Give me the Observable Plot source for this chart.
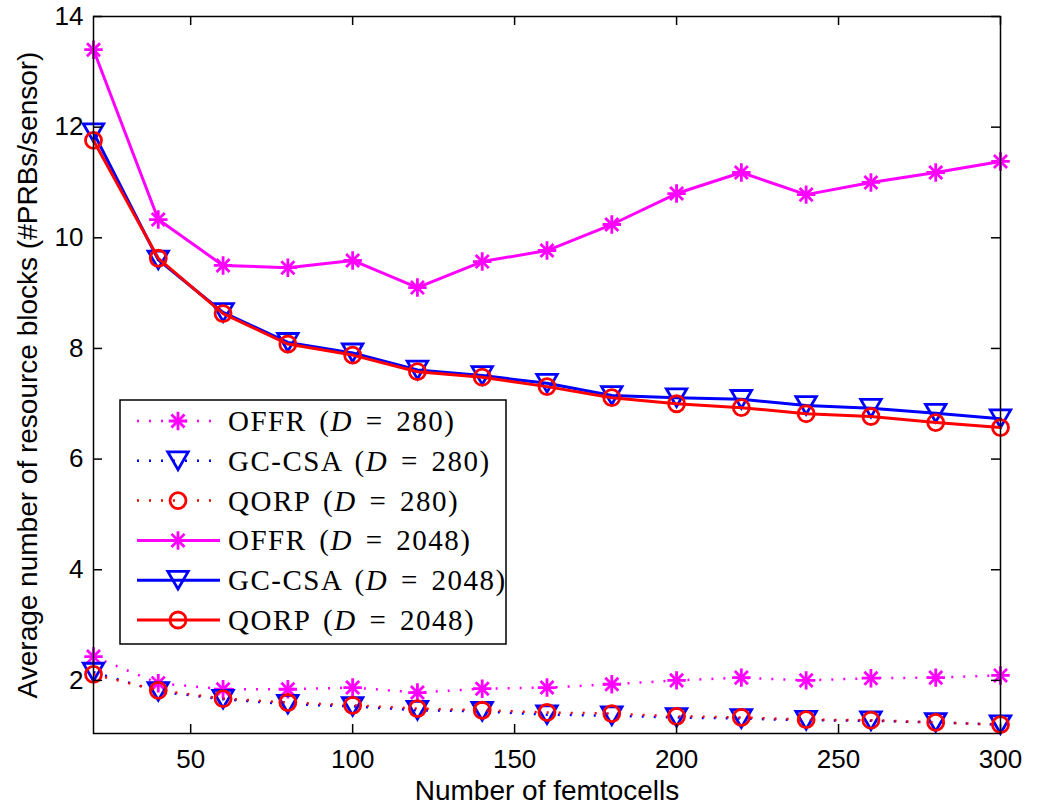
<!DOCTYPE html>
<html><head><meta charset="utf-8">
<script src="https://cdn.jsdelivr.net/npm/d3@7"></script>
<script src="https://cdn.jsdelivr.net/npm/@observablehq/plot@0.6"></script>
<style>body{margin:0;background:#fff;} #chart{position:relative;width:1042px;height:805px;}</style>
</head><body><div id="chart"></div>
<script>
// ---- data ----
const femtocells = [20,40,60,80,100,120,140,160,180,200,220,240,260,280,300];
const offr280   = [2.43,1.95,1.84,1.84,1.87,1.78,1.85,1.87,1.93,2.00,2.05,2.00,2.04,2.05,2.09];
const gccsa280  = [2.15,1.80,1.66,1.57,1.53,1.46,1.44,1.38,1.36,1.33,1.31,1.28,1.27,1.24,1.20];
const qorp280   = [2.11,1.82,1.67,1.60,1.55,1.49,1.46,1.42,1.40,1.35,1.33,1.29,1.28,1.24,1.20];
const offr2048  = [13.40,10.33,9.50,9.46,9.59,9.10,9.57,9.77,10.24,10.80,11.18,10.78,11.00,11.18,11.38];
const gccsa2048 = [11.90,9.60,8.65,8.11,7.92,7.61,7.51,7.37,7.15,7.11,7.08,6.97,6.92,6.83,6.73];
const qorp2048  = [11.76,9.63,8.63,8.08,7.88,7.58,7.48,7.31,7.11,7.00,6.93,6.82,6.77,6.66,6.57];
const seriesNames = ["OFFR","GC-CSA","QORP","OFFR","GC-CSA","QORP"];
const seriesD = ["280","280","280","2048","2048","2048"];
const xTicks = [50,100,150,200,250,300];
const yTicks = [2,4,6,8,10,12,14];
const xLabel = "Number of femtocells";
const yLabel = "Average number of resource blocks (#PRBs/sensor)";

// ---- styles ----
const allValues = [offr280,gccsa280,qorp280,offr2048,gccsa2048,qorp2048];
const styles = [
  {color:"#ff00ff", dash:"2,10", marker:"star"},
  {color:"#0000ff", dash:"2,10", marker:"tri"},
  {color:"#ff0000", dash:"2,10", marker:"circle"},
  {color:"#ff00ff", dash:null, marker:"star"},
  {color:"#0000ff", dash:null, marker:"tri"},
  {color:"#ff0000", dash:null, marker:"circle"}
];
const downTriangle = {draw(ctx, size){
  const y = Math.sqrt(size/(Math.sqrt(3)*3)), s3 = Math.sqrt(3);
  ctx.moveTo(0, 1.5*y); ctx.lineTo(-s3*y, -1.5*y); ctx.lineTo(s3*y, -1.5*y); ctx.closePath();
}};

const W = 1042, H = 805, mL = 93, mR = 42, mT = 16, mB = 72;
const fw = W - mL - mR, fh = H - mT - mB;

function markerMarks(data, st, lw) {
  if (st.marker === "star") return [
    Plot.dot(data, {x:"x", y:"y", symbol:"plus", r:6, stroke:st.color, fill:"none", strokeWidth:lw}),
    Plot.dot(data, {x:"x", y:"y", symbol:"times", r:6, stroke:st.color, fill:"none", strokeWidth:lw})
  ];
  if (st.marker === "tri") return [
    Plot.dot(data, {x:"x", y:"y", symbol:downTriangle, r:7.6, stroke:st.color, fill:"none", strokeWidth:lw})
  ];
  return [Plot.dot(data, {x:"x", y:"y", r:8, stroke:st.color, fill:"none", strokeWidth:lw})];
}

const marks = [];
allValues.forEach((vals, i) => {
  const data = femtocells.map((x, j) => ({x, y: vals[j]}));
  const st = styles[i];
  marks.push(Plot.line(data, {x:"x", y:"y", stroke:st.color, strokeWidth: st.dash ? 2.5 : 3,
    strokeDasharray: st.dash || undefined, strokeLinecap: st.dash ? "butt" : "round"}));
  marks.push(...markerMarks(data, st, 2.8));
});

const chart = Plot.plot({
  width: W, height: H,
  marginLeft: mL, marginRight: mR, marginTop: mT, marginBottom: mB,
  style: {fontFamily: "'Liberation Sans', Arial, sans-serif", fontSize: "26px", background: "#fff", color: "#000"},
  x: {domain: [20, 300]},
  y: {domain: [1.04, 14]},
  marks: [
    ...marks,
    Plot.frame({stroke: "black", strokeWidth: 1.5}),
    Plot.tickX(xTicks, {x: d => d, stroke: "black", strokeWidth: 1.5, insetTop: fh - 9}),
    Plot.tickX(xTicks, {x: d => d, stroke: "black", strokeWidth: 1.5, insetBottom: fh - 9}),
    Plot.tickY(yTicks, {y: d => d, stroke: "black", strokeWidth: 1.5, insetRight: fw - 9}),
    Plot.tickY(yTicks, {y: d => d, stroke: "black", strokeWidth: 1.5, insetLeft: fw - 9}),
    Plot.axisX({ticks: xTicks, tickSize: 0, tickPadding: 16, label: null, fontSize: 26}),
    Plot.axisY({ticks: yTicks, tickSize: 0, tickPadding: 10, label: null, fontSize: 26})
  ]
});
document.getElementById("chart").appendChild(chart);

// ---- axis titles & legend ----
const svg = d3.select(chart);
svg.append("text").attr("x", 547).attr("y", 800).attr("text-anchor", "middle")
  .attr("font-family", "'Liberation Sans', Arial, sans-serif").attr("font-size", 28).attr("fill", "#000").text(xLabel);
svg.append("text").attr("transform", "translate(37,375) rotate(-90)").attr("text-anchor", "middle")
  .attr("font-family", "'Liberation Sans', Arial, sans-serif").attr("font-size", 28).attr("fill", "#000").text(yLabel);

const lg = svg.append("g");
lg.append("rect").attr("x", 120).attr("y", 400).attr("width", 386).attr("height", 244)
  .attr("fill", "white").attr("stroke", "black").attr("stroke-width", 1.5);
seriesNames.forEach((name, i) => {
  const st = styles[i];
  const cy = 421 + i * 39.8;
  lg.append("line").attr("x1", 137).attr("x2", 220).attr("y1", cy).attr("y2", cy)
    .attr("stroke", st.color).attr("stroke-width", st.dash ? 2.5 : 3)
    .attr("stroke-dasharray", st.dash || null);
  const g = lg.append("g").attr("transform", `translate(178,${cy})`)
    .attr("fill", "none").attr("stroke", st.color).attr("stroke-width", 2.8);
  const sz = r => Math.PI * r * r;
  if (st.marker === "star") {
    g.append("path").attr("d", d3.symbol(d3.symbolPlus, sz(6))());
    g.append("path").attr("d", d3.symbol(d3.symbolTimes, sz(6))());
  } else if (st.marker === "tri") {
    g.append("path").attr("d", d3.symbol(downTriangle, sz(7.6))());
  } else {
    g.append("circle").attr("r", 8);
  }
  const t = lg.append("text").attr("x", 228).attr("y", cy + 10).attr("text-anchor", "start")
    .attr("font-family", "'Liberation Serif', 'DejaVu Serif', serif").attr("font-size", 29)
    .attr("letter-spacing", 1.5).attr("word-spacing", 4).attr("fill", "#000");
  t.append("tspan").text(name + " (");
  t.append("tspan").attr("font-style", "italic").text("D");
  t.append("tspan").text(" = " + seriesD[i] + ")");
});
</script>
</body></html>
